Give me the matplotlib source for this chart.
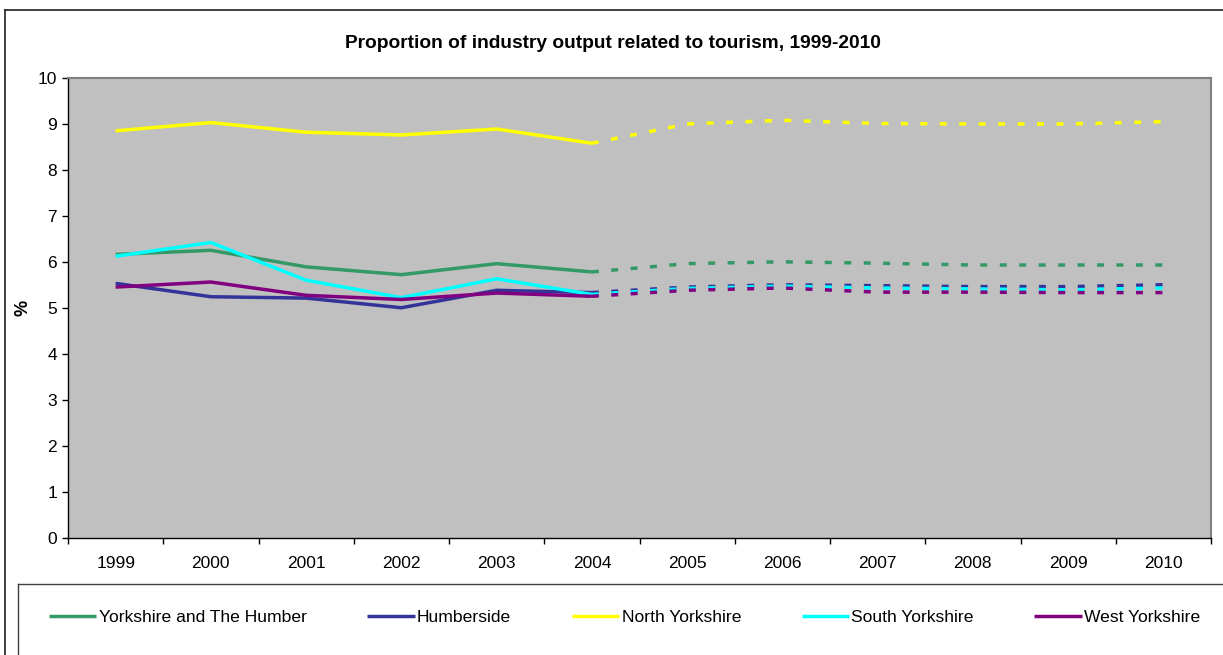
import numpy as np
import matplotlib.pyplot as plt
from matplotlib.lines import Line2D

plt.rcParams['font.family'] = ['Liberation Sans', 'DejaVu Sans']
plt.rcParams['lines.scale_dashes'] = False

years = ['1999', '2000', '2001', '2002', '2003', '2004',
         '2005', '2006', '2007', '2008', '2009', '2010']
last_actual = 5  # index of 2004, projections after that

yorkshire_humber = [6.16, 6.25, 5.89, 5.72, 5.96, 5.78, 5.96, 6.00, 5.97, 5.93, 5.93, 5.93]
humberside = [5.53, 5.24, 5.21, 5.00, 5.38, 5.33, 5.45, 5.50, 5.48, 5.46, 5.46, 5.50]
north_yorkshire = [8.85, 9.03, 8.82, 8.76, 8.89, 8.58, 9.00, 9.08, 9.01, 9.00, 9.00, 9.05]
south_yorkshire = [6.12, 6.42, 5.60, 5.22, 5.63, 5.29, 5.42, 5.47, 5.43, 5.41, 5.39, 5.43]
west_yorkshire = [5.45, 5.56, 5.27, 5.18, 5.32, 5.25, 5.38, 5.43, 5.34, 5.34, 5.33, 5.33]

series = [
    ('Yorkshire and The Humber', yorkshire_humber, '#339966'),
    ('Humberside', humberside, '#333399'),
    ('North Yorkshire', north_yorkshire, '#FFFF00'),
    ('South Yorkshire', south_yorkshire, '#00FFFF'),
    ('West Yorkshire', west_yorkshire, '#800080'),
]

fig = plt.figure(figsize=(12.23, 6.55), dpi=100)
ax = fig.add_axes([68 / 1223, 1 - 537.5 / 655, (1211 - 68) / 1223, (537.5 - 78) / 655])
ax.set_facecolor('#C0C0C0')

x = np.arange(len(years))
lw = 2.5
handles = []
for name, vals, col in series:
    vals = np.array(vals)
    h, = ax.plot(x[:last_actual + 1], vals[:last_actual + 1], color=col, lw=lw,
                 solid_capstyle='butt', solid_joinstyle='miter', label=name)
    ax.plot(x[last_actual:], vals[last_actual:], color=col, lw=lw,
            dashes=(5, 9.0), dash_capstyle='butt')
    handles.append(h)

ax.set_xlim(-0.5, len(years) - 0.5)
ax.set_ylim(0, 10)
ax.set_yticks(range(0, 11))
ax.set_xticks(np.arange(-0.5, len(years), 1.0))
ax.set_xticklabels([])
ax.set_xticks(x, minor=True)
ax.set_xticklabels(years, minor=True)
ax.tick_params(axis='x', which='major', direction='out', length=4, width=1, color='black')
ax.tick_params(axis='x', which='minor', length=0, pad=13, labelsize=12.5)
ax.tick_params(axis='y', direction='out', length=4, width=1, labelsize=12.5, pad=4)

for s in ['left', 'bottom']:
    ax.spines[s].set_color('black')
    ax.spines[s].set_linewidth(1.0)
for s in ['top', 'right']:
    ax.spines[s].set_color('#808080')
    ax.spines[s].set_linewidth(1.5)

ax.set_ylabel('%', fontsize=13, fontweight='bold', labelpad=4)
fig.text(0.5015, 1 - 43 / 655, 'Proportion of industry output related to tourism, 1999-2010',
         ha='center', va='center', fontsize=13.8, fontweight='bold')

# outer chart border (runs off the right and bottom of the image)
fig.add_artist(Line2D([5 / 1223, 1.0], [1 - 10 / 655, 1 - 10 / 655], transform=fig.transFigure,
                      color='#202020', lw=1.2))
fig.add_artist(Line2D([5 / 1223, 5 / 1223], [0, 1 - 10 / 655], transform=fig.transFigure,
                      color='#202020', lw=1.2))

# legend box
fig.add_artist(Line2D([18 / 1223, 1.0], [1 - 584 / 655, 1 - 584 / 655], transform=fig.transFigure,
                      color='#404040', lw=1.0))
fig.add_artist(Line2D([18 / 1223, 18 / 1223], [0, 1 - 584 / 655], transform=fig.transFigure,
                      color='#404040', lw=1.0))

fig.legend(handles=handles, loc='center left', bbox_to_anchor=(49 / 1223, 1 - 617 / 655),
           ncol=5, frameon=False, fontsize=12.6, handlelength=2.7, handletextpad=0.15,
           columnspacing=3.45, borderaxespad=0, borderpad=0)

fig.savefig('out.png', dpi=100)
